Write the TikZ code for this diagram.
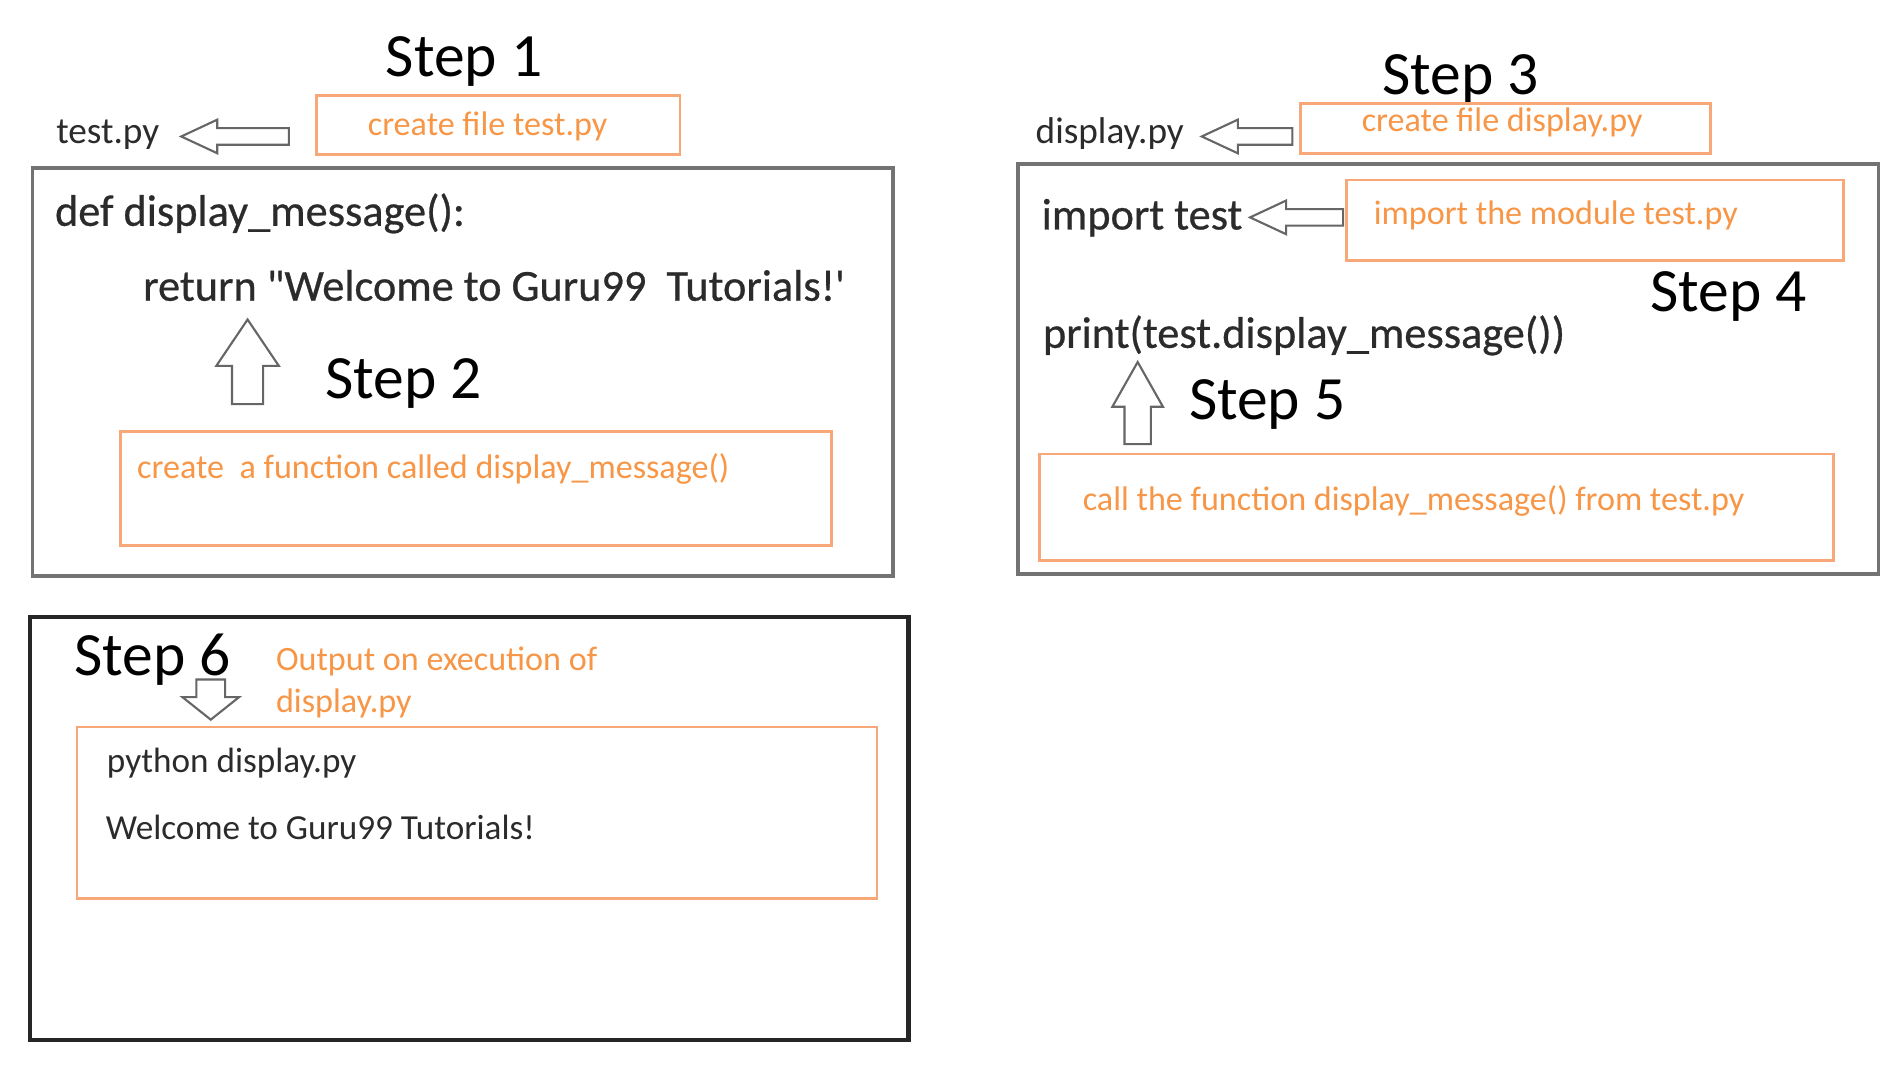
\documentclass[tikz,border=0pt]{standalone}
\usepackage{fontspec}
\setmainfont{Carlito}
\newfontfamily\codefont{Carlito}[FakeBold=0.6]
\usepackage{xcolor}
\usetikzlibrary{shapes.arrows}
\usetikzlibrary{positioning}
\definecolor{NoteOrange}{HTML}{F79646}
\definecolor{BoxOrange}{HTML}{F8A878}
\definecolor{CodeGray}{HTML}{2B2B2B}
\tikzset{
  GrayBox/.style={
    rectangle, draw=black!55, line width=1pt,
  },
  BlackBox/.style={
    rectangle, draw=black!85, line width=1.2pt,
  },
  OrangeBox/.style={
    rectangle, draw=BoxOrange, line width=0.8pt,
  },
  StepText/.style={
    inner sep=0pt, anchor=base west, text=black,
    font=\fontsize{17.5}{21}\selectfont,
  },
  CodeText/.style={
    inner sep=0pt, anchor=base west, text=CodeGray,
    font=\codefont\fontsize{12.6}{15}\selectfont,
  },
  FileText/.style={
    inner sep=0pt, anchor=base west, text=CodeGray,
    font=\fontsize{10.6}{13}\selectfont,
  },
  NoteText/.style={
    inner sep=0pt, anchor=base west, text=NoteOrange,
    font=\fontsize{9.7}{12}\selectfont,
  },
  OutText/.style={
    inner sep=0pt, anchor=base west, text=CodeGray,
    font=\fontsize{10}{12}\selectfont,
  },
  HollowArrow/.style={
    single arrow, draw=black!60, fill=white, line width=0.6pt, anchor=tip,
  },
}
\begin{document}
\begin{tikzpicture}[x=0.012077cm, y=-0.012077cm]
\useasboundingbox (0,0) rectangle (1560,892);
% step 1 : test.py
\node[StepText] (S1) at (319,63) {Step 1};
\node[OrangeBox, minimum width=3.635cm, minimum height=0.592cm] (N1) at (412.5,103.5) {};
\node[NoteText] (T1) at (304,112) {create file test.py};
\node[FileText] (F1) at (46,119) {test.py};
\node[HollowArrow, rotate=180, minimum height=1.075cm, inner sep=0.0725cm, single arrow head extend=0.085cm, single arrow tip angle=50] (A1) at (148,113) {};
% box with the function
\node[GrayBox, minimum width=8.599cm, minimum height=4.082cm] (TEST) at (383,308) {};
\node[CodeText] (DEF) at (45,187) {def display\_message():};
\node[CodeText] (RET) at (118,249) {return "Welcome to Guru99~ Tutorials!'};
\node[HollowArrow, rotate=90, minimum height=0.845cm, inner sep=0.145cm, single arrow head extend=0.157cm, single arrow tip angle=68] (A2) at (205,263) {};
\node[StepText] (S2) at (269,330) {Step 2};
\node[OrangeBox, minimum width=7.101cm, minimum height=1.147cm] (N2) at (394,404.5) {};
\node[NoteText] (T2) at (113,396) {create~ a function called display\_message()};
% step 3 : display.py
\node[StepText] (S3) at (1144,78) {Step 3};
\node[OrangeBox, minimum width=4.094cm, minimum height=0.495cm] (N3) at (1246.5,106.5) {};
\node[NoteText] (T3) at (1127,109) {create file display.py};
\node[FileText] (F2) at (857,119) {display.py};
\node[HollowArrow, rotate=180, minimum height=0.906cm, inner sep=0.0725cm, single arrow head extend=0.085cm, single arrow tip angle=50] (A3) at (993,113) {};
% box with the import
\node[GrayBox, minimum width=8.599cm, minimum height=4.094cm] (DISP) at (1199,305.5) {};
\node[CodeText] (IMP) at (862,190) {import test};
\node[HollowArrow, rotate=180, minimum height=0.93cm, inner sep=0.0725cm, single arrow head extend=0.085cm, single arrow tip angle=50] (A4) at (1033,180) {};
\node[OrangeBox, minimum width=4.964cm, minimum height=0.809cm] (N4) at (1320.5,182.5) {};
\node[NoteText] (T4) at (1137,186) {import the module test.py};
\node[StepText] (S4) at (1366,258) {Step 4};
\node[CodeText] (PRT) at (863,288) {print(test.display\_message())};
\node[HollowArrow, rotate=90, minimum height=0.821cm, inner sep=0.121cm, single arrow head extend=0.121cm, single arrow tip angle=59] (A5) at (942,298) {};
\node[StepText] (S5) at (984,347) {Step 5};
\node[OrangeBox, minimum width=7.935cm, minimum height=1.063cm] (N5) at (1189.5,420) {};
\node[NoteText] (T5) at (896,423) {call the function display\_message() from test.py};
% step 6 : output
\node[BlackBox, minimum width=8.78cm, minimum height=4.227cm] (RUN) at (388.5,686) {};
\node[StepText] (S6) at (61,559) {Step 6};
\node[HollowArrow, rotate=270, minimum height=0.374cm, inner sep=0.133cm, single arrow head extend=0.139cm, single arrow tip angle=103] (A6) at (174.5,597) {};
\node[NoteText] (T6) at (228,555) {Output on execution of};
\node[NoteText] (T7) at (228,590) {display.py};
\node[OrangeBox, minimum width=7.995cm, minimum height=1.715cm] (N6) at (395,673) {};
\node[OutText] (CMD) at (88,640) {python display.py};
\node[OutText] (OUT) at (87,695) {Welcome to Guru99 Tutorials!};
\end{tikzpicture}
\end{document}
